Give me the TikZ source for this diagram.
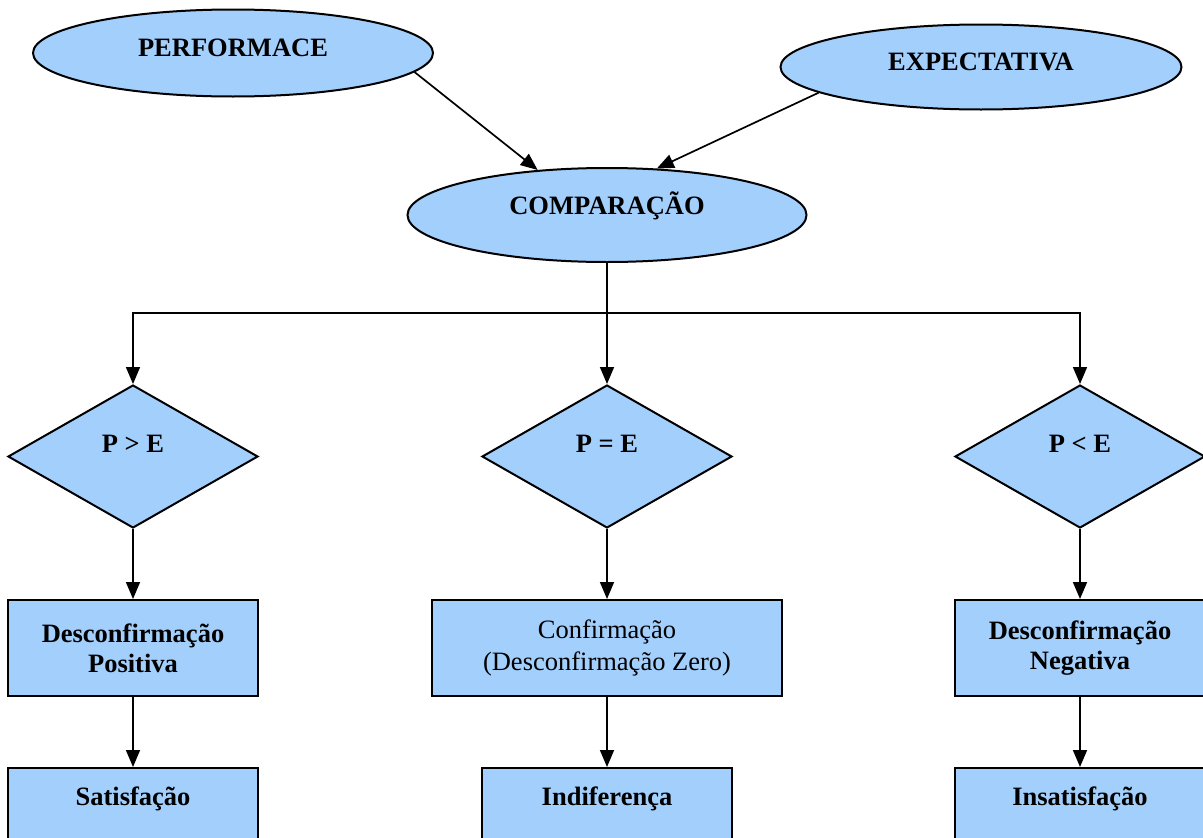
\documentclass[tikz,border=0pt]{standalone}
\usepackage{fontspec}
\setmainfont{Liberation Serif}
\usetikzlibrary{shapes.geometric,arrows.meta}
\definecolor{fillblue}{RGB}{163,207,252}
\begin{document}
\begin{tikzpicture}[x=1pt,y=-1pt,
  shapebase/.style={draw=black, line width=2pt, fill=fillblue, inner sep=0pt,
    font=\fontsize{26.5}{30}\selectfont\bfseries, align=center},
  oval/.style={shapebase, ellipse, minimum width=400pt, minimum height=86pt},
  dia/.style={shapebase, diamond, minimum width=250pt, minimum height=143pt,
    aspect=1.75, text height=14pt, text depth=23pt},
  stepbox/.style={shapebase, rectangle, minimum height=96pt},
  endbox/.style={shapebase, rectangle, minimum width=250pt, minimum height=110pt,
    text height=10pt, text depth=46pt},
  arr/.style={line width=1.7pt, -{Triangle[length=17pt,width=14pt]}},
  ln/.style={line width=1.7pt}]
\useasboundingbox (0,0) rectangle (1203,838);

% ellipses
\node[oval, minimum height=87pt, text height=20pt, text depth=13pt] (perf) at (233,53) {PERFORMACE};
\node[oval, minimum width=401pt, minimum height=85pt, text height=20pt, text depth=13pt] (exp) at (981,67) {EXPECTATIVA};
\node[oval, minimum width=399pt, minimum height=94pt, text height=16pt, text depth=17pt] (comp) at (607,215) {COMPARAÇÃO};

% diamonds
\node[dia] (d1) at (133,456.5) {P > E};
\node[dia] (d2) at (607,456.5) {P = E};
\node[dia] (d3) at (1080,456.5) {P < E};

% first row of boxes
\node[stepbox, minimum width=250pt] (b1) at (133,648) {Desconfirmação\\Positiva};
\node[stepbox, minimum width=350pt, font=\fontsize{26.5}{32}\selectfont] (b2) at (607,648) {Confirmação\\(Desconfirmação Zero)};
\node[stepbox, minimum width=250pt] (b3) at (1080,648) {Desconfirmação\\Negativa};

% last row of boxes
\node[endbox] (c1) at (133,823) {Satisfação};
\node[endbox] (c2) at (607,823) {Indiferença};
\node[endbox] (c3) at (1080,823) {Insatisfação};

% connectors
\draw[arr] (perf.-6.5) -- (comp.147.9);
\draw[arr] (exp.-171.8) -- (comp.43.2);
\coordinate (j) at (607,313);
\draw[arr] (comp.south) -- (d2.north);
\draw[arr] (j) -| (d1.north);
\draw[arr] (j) -| (d3.north);
\draw[arr] (d1.south) -- (b1.north);
\draw[arr] (d2.south) -- (b2.north);
\draw[arr] (d3.south) -- (b3.north);
\draw[arr] (b1.south) -- (c1.north);
\draw[arr] (b2.south) -- (c2.north);
\draw[arr] (b3.south) -- (c3.north);
\end{tikzpicture}
\end{document}
